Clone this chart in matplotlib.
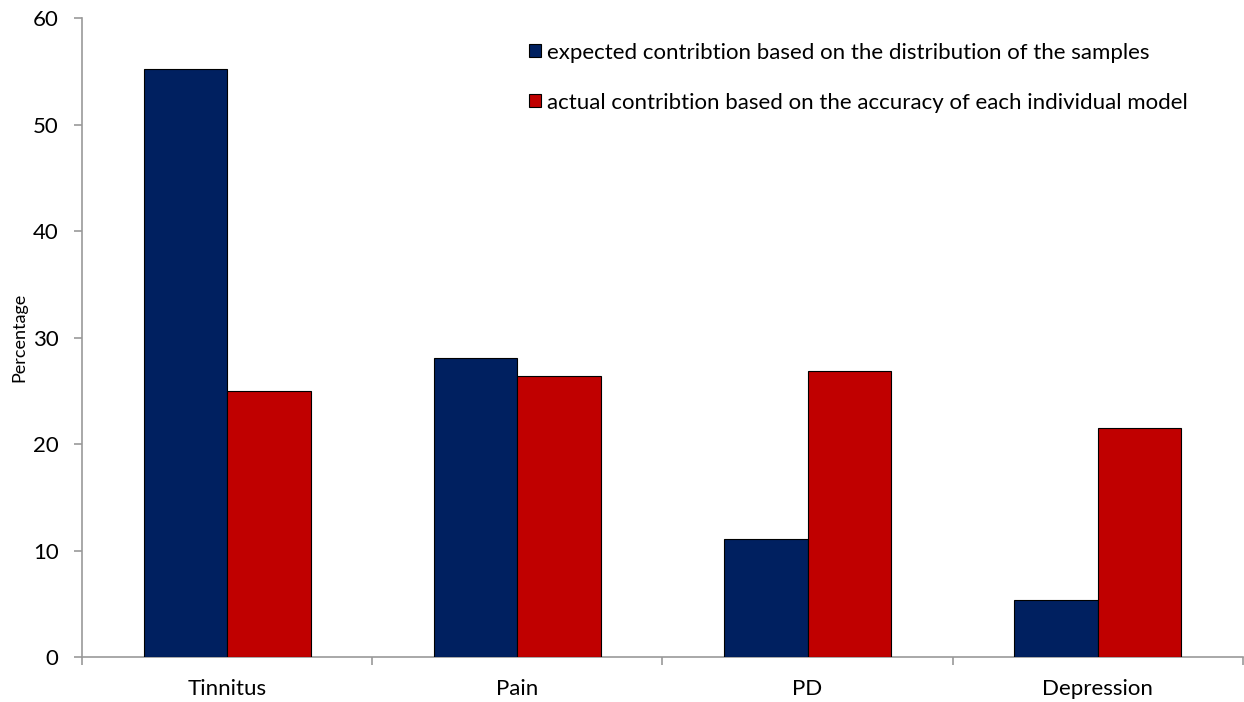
import numpy as np
import matplotlib
matplotlib.use("Agg")
import matplotlib.pyplot as plt

plt.rcParams["font.family"] = ["Lato", "DejaVu Sans"]

categories = ["Tinnitus", "Pain", "PD", "Depression"]
expected = [55.2, 28.1, 11.1, 5.4]
actual = [25.0, 26.4, 26.9, 21.5]
labels = ["expected contribtion based on the distribution of the samples",
          "actual contribtion based on the accuracy of each individual model"]

BLUE = "#002060"
RED = "#C00000"
AXIS = "#999999"

fig = plt.figure(figsize=(12.44, 7.02), dpi=100)
ax = fig.add_axes([0.066, 0.064, 0.933, 0.91])

x = np.arange(len(categories))
w = 0.288
ax.bar(x - w / 2, expected, w, color=BLUE, edgecolor="black", linewidth=0.8,
       label=labels[0], zorder=3)
ax.bar(x + w / 2, actual, w, color=RED, edgecolor="black", linewidth=0.8,
       label=labels[1], zorder=3)

ax.set_xlim(-0.5, len(categories) - 0.5)
ax.set_ylim(0, 60)
ax.set_yticks(np.arange(0, 61, 10))
ax.set_xticks(x)
ax.set_xticklabels(categories)
ax.set_xticks(np.arange(-0.5, len(categories), 1.0), minor=True)

for side in ("top", "right"):
    ax.spines[side].set_visible(False)
for side in ("left", "bottom"):
    ax.spines[side].set_color(AXIS)
    ax.spines[side].set_linewidth(1.2)

ax.tick_params(axis="x", which="major", length=0, pad=16, labelsize=16)
ax.tick_params(axis="x", which="minor", length=6, color=AXIS, width=1.2)
ax.tick_params(axis="y", length=6, color=AXIS, width=1.2, pad=11, labelsize=16)
ax.set_ylabel("Percentage", fontsize=13, labelpad=4)

leg = ax.legend(loc="upper left", bbox_to_anchor=(0.385, 0.962), frameon=False,
                fontsize=16, handlelength=0.55, handleheight=0.55,
                handletextpad=0.25, labelspacing=1.35, borderpad=0,
                borderaxespad=0)

fig.savefig("out.png", dpi=100)
